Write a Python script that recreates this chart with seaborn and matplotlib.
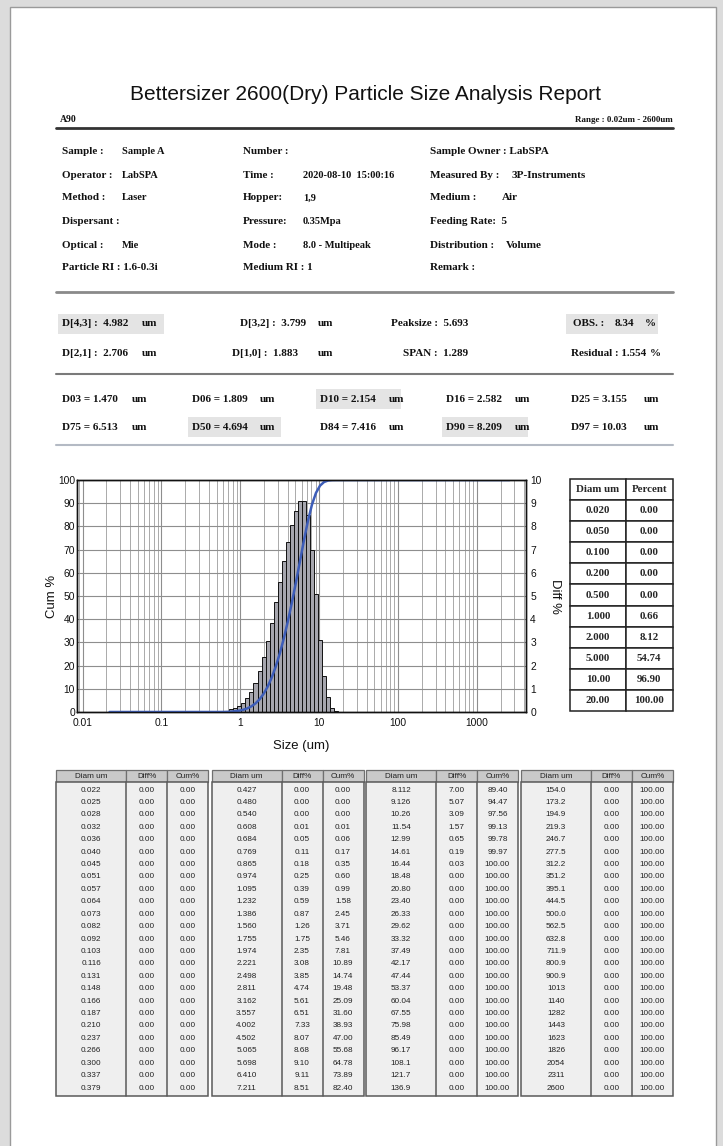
import matplotlib
matplotlib.use("Agg")
import matplotlib.pyplot as plt
from matplotlib import font_manager
from matplotlib.patches import Rectangle
from matplotlib.ticker import LogLocator, NullFormatter
from matplotlib.font_manager import FontProperties
import numpy as np
import seaborn as sns

# --- data ---
diam_labels = [
    "0.022", "0.025", "0.028", "0.032", "0.036", "0.040", "0.045", "0.051", "0.057", "0.064",
    "0.073", "0.082", "0.092", "0.103", "0.116", "0.131", "0.148", "0.166", "0.187", "0.210",
    "0.237", "0.266", "0.300", "0.337", "0.379",
    "0.427", "0.480", "0.540", "0.608", "0.684", "0.769", "0.865", "0.974", "1.095", "1.232",
    "1.386", "1.560", "1.755", "1.974", "2.221", "2.498", "2.811", "3.162", "3.557", "4.002",
    "4.502", "5.065", "5.698", "6.410", "7.211",
    "8.112", "9.126", "10.26", "11.54", "12.99", "14.61", "16.44", "18.48", "20.80", "23.40",
    "26.33", "29.62", "33.32", "37.49", "42.17", "47.44", "53.37", "60.04", "67.55", "75.98",
    "85.49", "96.17", "108.1", "121.7", "136.9",
    "154.0", "173.2", "194.9", "219.3", "246.7", "277.5", "312.2", "351.2", "395.1", "444.5",
    "500.0", "562.5", "632.8", "711.9", "800.9", "900.9", "1013", "1140", "1282", "1443",
    "1623", "1826", "2054", "2311", "2600",
]
diff_pct = [
    0.00, 0.00, 0.00, 0.00, 0.00, 0.00, 0.00, 0.00, 0.00, 0.00,
    0.00, 0.00, 0.00, 0.00, 0.00, 0.00, 0.00, 0.00, 0.00, 0.00,
    0.00, 0.00, 0.00, 0.00, 0.00,
    0.00, 0.00, 0.00, 0.01, 0.05, 0.11, 0.18, 0.25, 0.39, 0.59,
    0.87, 1.26, 1.75, 2.35, 3.08, 3.85, 4.74, 5.61, 6.51, 7.33,
    8.07, 8.68, 9.10, 9.11, 8.51,
    7.00, 5.07, 3.09, 1.57, 0.65, 0.19, 0.03, 0.00, 0.00, 0.00,
    0.00, 0.00, 0.00, 0.00, 0.00, 0.00, 0.00, 0.00, 0.00, 0.00,
    0.00, 0.00, 0.00, 0.00, 0.00,
    0.00, 0.00, 0.00, 0.00, 0.00, 0.00, 0.00, 0.00, 0.00, 0.00,
    0.00, 0.00, 0.00, 0.00, 0.00, 0.00, 0.00, 0.00, 0.00, 0.00,
    0.00, 0.00, 0.00, 0.00, 0.00,
]
cum_pct = [
    0.00, 0.00, 0.00, 0.00, 0.00, 0.00, 0.00, 0.00, 0.00, 0.00,
    0.00, 0.00, 0.00, 0.00, 0.00, 0.00, 0.00, 0.00, 0.00, 0.00,
    0.00, 0.00, 0.00, 0.00, 0.00,
    0.00, 0.00, 0.00, 0.01, 0.06, 0.17, 0.35, 0.60, 0.99, 1.58,
    2.45, 3.71, 5.46, 7.81, 10.89, 14.74, 19.48, 25.09, 31.60, 38.93,
    47.00, 55.68, 64.78, 73.89, 82.40,
    89.40, 94.47, 97.56, 99.13, 99.78, 99.97, 100.00, 100.00, 100.00, 100.00,
    100.00, 100.00, 100.00, 100.00, 100.00, 100.00, 100.00, 100.00, 100.00, 100.00,
    100.00, 100.00, 100.00, 100.00, 100.00,
    100.00, 100.00, 100.00, 100.00, 100.00, 100.00, 100.00, 100.00, 100.00, 100.00,
    100.00, 100.00, 100.00, 100.00, 100.00, 100.00, 100.00, 100.00, 100.00, 100.00,
    100.00, 100.00, 100.00, 100.00, 100.00,
]

# small summary table on the right of the chart
pick_diam = ["0.020", "0.050", "0.100", "0.200", "0.500", "1.000", "2.000", "5.000", "10.00", "20.00"]
pick_pct = ["0.00", "0.00", "0.00", "0.00", "0.00", "0.66", "8.12", "54.74", "96.90", "100.00"]

# header fields (three columns, six rows)
col1_labels = ["Sample :", "Operator :", "Method :", "Dispersant :", "Optical :", "Particle RI : 1.6-0.3i"]
col1_values = ["Sample A", "LabSPA", "Laser", "", "Mie", ""]
col2_labels = ["Number :", "Time :", "Hopper:", "Pressure:", "Mode :", "Medium RI : 1"]
col2_values = ["", "2020-08-10  15:00:16", "1,9", "0.35Mpa", "8.0 - Multipeak", ""]
col3_labels = ["Sample Owner : LabSPA", "Measured By :", "Medium :", "Feeding Rate:  5", "Distribution :", "Remark :"]
col3_values = ["", "3P-Instruments", "Air", "", "Volume", ""]

# percentile values
pct_names = ["D03", "D06", "D10", "D16", "D25", "D75", "D50", "D84", "D90", "D97"]
pct_values = ["1.470", "1.809", "2.154", "2.582", "3.155", "6.513", "4.694", "7.416", "8.209", "10.03"]

# --- fonts ---
sns.set_style("white")
names = {f.name for f in font_manager.fontManager.ttflist}
narrow = "Liberation Sans Narrow" in names
SANS = ["Liberation Sans Narrow", "Liberation Sans", "DejaVu Sans"] if narrow else ["Liberation Sans", "DejaVu Sans"]
SERIF = ["Liberation Serif", "DejaVu Serif"]
plt.rcParams["font.family"] = SANS
k = 1.0 if narrow else 0.86

W, H = 723, 1146
def frac(x0, y0, x1, y1):
    return [x0 / W, 1 - y1 / H, (x1 - x0) / W, (y1 - y0) / H]

fig = plt.figure(figsize=(7.23, 11.46), dpi=100, facecolor="#dcdcdc")

# page layer in pixel coordinates
pg = fig.add_axes([0, 0, 1, 1])
pg.set_xlim(0, W)
pg.set_ylim(H, 0)
pg.axis("off")
pg.set_zorder(0)
pg.add_patch(Rectangle((10, 7), 706, 1150, fc="white", ec="#9a9a9a", lw=1))

def stxt(x, y, s, size=8, **kw):
    pg.text(x, y, s, family=SERIF, weight="bold", fontsize=size, va="center", color="#111", **kw)

pg.text(365, 94, "Bettersizer 2600(Dry) Particle Size Analysis Report",
        ha="center", va="center", family=SANS, fontsize=17.5 * k, color="#111")
stxt(60, 120, "A90", size=7)
stxt(673, 120, "Range : 0.02um - 2600um", size=6.5, ha="right")
pg.plot([56, 673], [128, 128], color="#333", lw=2)

row_y = [152, 175, 198, 222, 245, 268]
col3_vx = [0, 512, 502, 0, 506, 0]
for i, y in enumerate(row_y):
    stxt(62, y, col1_labels[i])
    stxt(122, y, col1_values[i], size=7.5)
    stxt(243, y, col2_labels[i])
    stxt(303, y, col2_values[i], size=7.5)
    stxt(430, y, col3_labels[i])
    if col3_values[i]:
        stxt(col3_vx[i], y, col3_values[i])
pg.plot([56, 673], [292, 292], color="#8a8a8a", lw=2)

# stats rows with grey highlight boxes
for (x0, x1, y) in [(58, 164, 324), (566, 658, 324)]:
    pg.add_patch(Rectangle((x0, y - 10), x1 - x0, 20, fc="#e4e4e4", ec="none"))
stats1 = [("D[4,3] :  4.982", 62), ("um", 142), ("D[3,2] :  3.799", 240), ("um", 318),
          ("Peaksize :  5.693", 391), ("OBS. :", 573), ("8.34", 615), ("%", 645)]
stats2 = [("D[2,1] :  2.706", 62), ("um", 142), ("D[1,0] :  1.883", 232), ("um", 318),
          ("SPAN :  1.289", 403), ("Residual : 1.554", 571), ("%", 650)]
for s, x in stats1:
    stxt(x, 324, s)
for s, x in stats2:
    stxt(x, 353, s)
pg.plot([56, 673], [374, 374], color="#7a7a7a", lw=1.5)

pct_x = [62, 192, 320, 446, 571]
um_x = [132, 260, 389, 515, 644]
for (x0, x1, y) in [(316, 401, 399), (188, 281, 427), (442, 528, 427)]:
    pg.add_patch(Rectangle((x0, y - 10), x1 - x0, 20, fc="#e4e4e4", ec="none"))
for i, (n, v) in enumerate(zip(pct_names, pct_values)):
    y = 399 if i < 5 else 427
    stxt(pct_x[i % 5], y, f"{n} = {v}")
    stxt(um_x[i % 5], y, "um")
pg.plot([56, 673], [445, 445], color="#b4bac4", lw=1.5)

# --- chart ---
d = np.array([float(s) for s in diam_labels])
diff = np.array(diff_pct)
cum = np.array(cum_pct)
logd = np.log10(d)
mid = (logd[:-1] + logd[1:]) / 2
edges = np.concatenate([[2 * logd[0] - mid[0]], mid, [2 * logd[-1] - mid[-1]]])
left, right = 10 ** edges[:-1], 10 ** edges[1:]
show = diff > 0

ax = fig.add_axes(frac(77, 480, 526, 712))
ax2 = ax.twinx()
ax.set_zorder(2)
ax2.set_zorder(1)
ax.patch.set_visible(False)

ax2.bar(left[show], diff[show], width=(right - left)[show], align="edge",
        color="#a6a6ae", edgecolor="#111", lw=0.7)
sns.lineplot(x=d, y=cum, ax=ax, color="#3d5db8", lw=1.8)

ax.set_xscale("log")
ax.set_xlim(0.0085, 4200)
ax.set_ylim(0, 100)
ax2.set_ylim(0, 10)
ax.set_xticks([0.01, 0.1, 1, 10, 100, 1000])
ax.set_xticklabels(["0.01", "0.1", "1", "10", "100", "1000"])
ax.xaxis.set_minor_locator(LogLocator(base=10, subs=np.arange(2, 10)))
ax.xaxis.set_minor_formatter(NullFormatter())
ax.set_yticks(range(0, 101, 10))
ax2.set_yticks(range(0, 11))

ax2.xaxis.set_visible(True)
ax2.tick_params(axis="x", which="both", bottom=False, top=False, labelbottom=False)
ax2.set_axisbelow(True)
ax2.grid(True, which="major", axis="both", color="#8e8e8e", lw=0.8)
ax2.grid(True, which="minor", axis="x", color="#aaaaaa", lw=0.7)
ax.grid(False)

tsize = 8.6 * k
ax.tick_params(axis="both", which="both", length=0, labelsize=tsize, colors="#111")
ax.tick_params(axis="x", pad=4)
ax.tick_params(axis="y", pad=1.5)
ax2.tick_params(axis="y", length=0, labelsize=tsize, pad=3, colors="#111")
ax.set_xlabel("Size (um)", fontsize=11 * k, family=SANS, labelpad=9, color="#111")
ax.set_ylabel("Cum %", fontsize=11 * k, family=SANS, labelpad=0, color="#111")
ax2.set_ylabel("Diff %", fontsize=11 * k, family=SANS, rotation=270, labelpad=14, color="#111")
for a in (ax, ax2):
    for sp in a.spines.values():
        sp.set_color("#111")
        sp.set_linewidth(1)

# right-hand summary table
tax = fig.add_axes(frac(570, 479, 673, 711))
tax.axis("off")
tb = tax.table(cellText=[[a, b] for a, b in zip(pick_diam, pick_pct)],
               colLabels=["Diam um", "Percent"], cellLoc="center", bbox=[0, 0, 1, 1])
tb.auto_set_font_size(False)
for (r, c), cell in tb.get_celld().items():
    cell.set_linewidth(1.1)
    cell.set_edgecolor("#222")
    cell.set_width(0.54 if c == 0 else 0.46)
    cell.get_text().set_fontproperties(FontProperties(family=SERIF, weight="bold", size=7.8))

# bottom data table, four groups of 25 rows
gx = [56, 211.5, 366, 521]
cw = [70, 41, 41]
top, hdr_b, bot = 770, 782, 1096
row0, dy = 790, 12.42
bsize = 6.8 * k
for g in range(4):
    xs = [gx[g], gx[g] + cw[0], gx[g] + cw[0] + cw[1], gx[g] + sum(cw)]
    for j, name in enumerate(["Diam um", "Diff%", "Cum%"]):
        pg.add_patch(Rectangle((xs[j], top), xs[j + 1] - xs[j], hdr_b - top,
                               fc="#c9c9c9", ec="#707070", lw=0.9))
        pg.text((xs[j] + xs[j + 1]) / 2, (top + hdr_b) / 2 + 0.5, name, ha="center", va="center",
                family=SANS, fontsize=bsize, color="#222")
    pg.add_patch(Rectangle((xs[0], hdr_b), sum(cw), bot - hdr_b, fc="#efefef", ec="#5a5a5a", lw=1.1))
    for xv in xs[1:3]:
        pg.plot([xv, xv], [hdr_b, bot], color="#5a5a5a", lw=1.1)
    for i in range(25):
        n = g * 25 + i
        y = row0 + i * dy
        cells = [diam_labels[n], f"{diff_pct[n]:.2f}", f"{cum_pct[n]:.2f}"]
        for j, s in enumerate(cells):
            pg.text((xs[j] + xs[j + 1]) / 2, y, s, ha="center", va="center",
                    family=SANS, fontsize=bsize, color="#222")

fig.savefig("out.png", dpi=100, facecolor=fig.get_facecolor())
